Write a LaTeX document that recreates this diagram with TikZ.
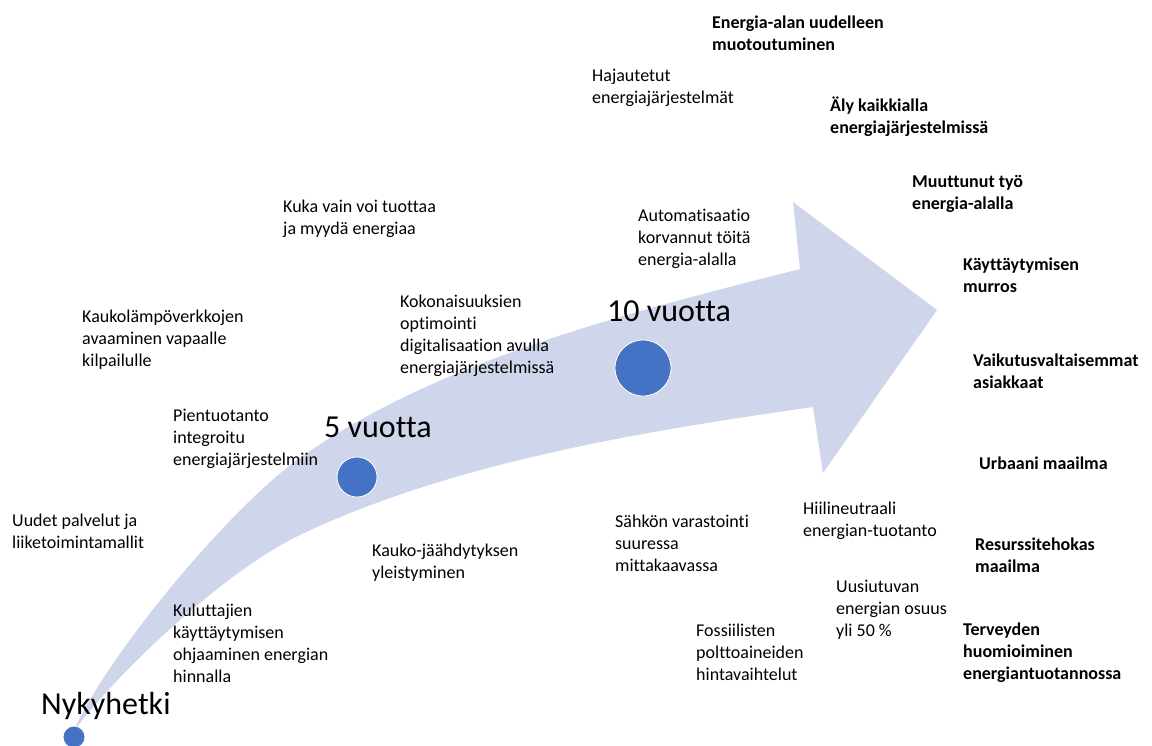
\documentclass[tikz,border=0pt]{standalone}
\usepackage{fontspec}
\setmainfont{Carlito}[Ligatures={NoCommon}]
\definecolor{bandfill}{HTML}{CFD5EA}
\definecolor{dotblue}{HTML}{4472C4}
\begin{document}
\begin{tikzpicture}[x=1pt,y=-1pt,
  txt/.style={anchor=north west,inner sep=0pt,align=left,text=black,
    font=\fontsize{18}{22}\selectfont},
  key/.style={txt,font=\fontsize{18}{22}\selectfont\bfseries},
  stage/.style={anchor=base west,inner sep=0pt,font=\fontsize{32}{38}\selectfont},
  milestone/.style={circle,fill=dotblue,draw=white,line width=0.8pt,inner sep=0pt}]
\useasboundingbox (0,0) rectangle (1152,745);

% curved timeline arrow
\fill[bandfill] (73,732) .. controls (110,650) and (234,504) .. (300,458)
  .. controls (439,359) and (635,311) .. (800,269)
  -- (793,202) -- (937,310) -- (823,473) -- (813,407)
  .. controls (645,431) and (453,462) .. (300,535)
  .. controls (228,569) and (121,668) .. (73,732) -- cycle;

% milestones
\node[milestone,minimum size=22pt] (now) at (74,737) {};
\node[milestone,minimum size=40pt] (five) at (357,477) {};
\node[milestone,minimum size=56pt] (ten) at (643,368) {};

\node[stage] (nowlbl) at (41,714) {Nykyhetki};
\node[stage] (fivelbl) at (324,437) {5 vuotta};
\node[stage] (tenlbl) at (607,321) {10 vuotta};

% developments along the way
\node[txt] (hajautetut) at (592,69) {Hajautetut\\energiajärjestelmät};
\node[txt] (kuka) at (283,200) {Kuka vain voi tuottaa\\ja myydä energiaa};
\node[txt] (automat) at (638,209) {Automatisaatio\\korvannut töitä\\energia-alalla};
\node[txt] (kokon) at (400,295) {Kokonaisuuksien\\optimointi\\digitalisaation avulla\\energiajärjestelmissä};
\node[txt] (kaukolampo) at (82,310) {Kaukolämpöverkkojen\\avaaminen vapaalle\\kilpailulle};
\node[txt] (pientuot) at (173,409) {Pientuotanto\\integroitu\\energiajärjestelmiin};
\node[txt] (uudet) at (12,514) {Uudet palvelut ja\\liiketoimintamallit};
\node[txt] (kaukojaah) at (372,544) {Kauko-jäähdytyksen\\yleistyminen};
\node[txt] (sahkon) at (615,515) {Sähkön varastointi\\suuressa\\mittakaavassa};
\node[txt] (hiili) at (803,502) {Hiilineutraali\\energian-tuotanto};
\node[txt] (uusiut) at (836,580) {Uusiutuvan\\energian osuus\\yli 50 \%};
\node[txt] (fossiil) at (696,624) {Fossiilisten\\polttoaineiden\\hintavaihtelut};
\node[txt] (kulutt) at (173,604) {Kuluttajien\\käyttäytymisen\\ohjaaminen energian\\hinnalla};

% megatrends
\node[key] (muotout) at (712,16) {Energia-alan uudelleen\\muotoutuminen};
\node[key] (aly) at (830,97) {Äly kaikkialla\\energiajärjestelmissä};
\node[key] (tyo) at (912,175) {Muuttunut työ\\energia-alalla};
\node[key] (kaytt) at (963,258) {Käyttäytymisen\\murros};
\node[key] (vaikut) at (973,354) {Vaikutusvaltaisemmat\\asiakkaat};
\node[key] (urbaani) at (979,457) {Urbaani maailma};
\node[key] (resurssi) at (975,538) {Resurssitehokas\\maailma};
\node[key] (terveys) at (963,623) {Terveyden\\huomioiminen\\energiantuotannossa};
\end{tikzpicture}
\end{document}
